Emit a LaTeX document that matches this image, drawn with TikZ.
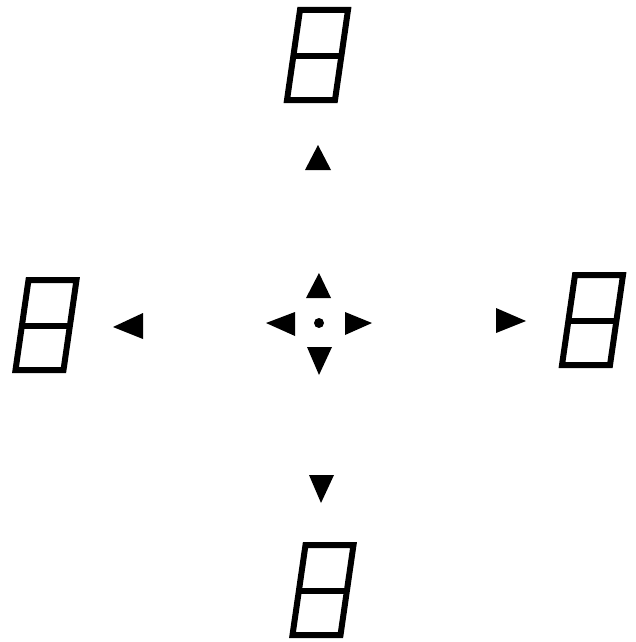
\documentclass[tikz,border=0pt]{standalone}
\begin{document}
\begin{tikzpicture}[x=1pt,y=-1pt,
  seg/.style={draw=black,line width=6pt,line join=miter},
  tri/.style={fill=black},
  digit/.pic={
    \draw[seg] (-17.5,-45) -- (30.5,-45) -- (17.5,45) -- (-30.5,45) -- cycle;
    \draw[seg] (-24.3,1) -- (23.7,1);
  }]
\useasboundingbox (0,0) rectangle (636,642);
% digits
\pic at (317.5,55) {digit};
\pic at (46,325) {digit};
\pic at (592.5,320) {digit};
\pic at (323,590) {digit};
% outer arrows
\fill[tri] (318,145) -- (331,170) -- (305,170) -- cycle;
\fill[tri] (113,327) -- (143,313) -- (143,339) -- cycle;
\fill[tri] (526,321) -- (496,308) -- (496,333) -- cycle;
\fill[tri] (321,503) -- (309,475) -- (334,475) -- cycle;
% centre cross
\fill[tri] (319,273) -- (331,298) -- (306,298) -- cycle;
\fill[tri] (266,323) -- (295,312) -- (295,336) -- cycle;
\fill[tri] (372,323) -- (345,312) -- (345,335) -- cycle;
\fill[tri] (319,375) -- (307,347) -- (332,347) -- cycle;
\fill (319,323) circle (5);
\end{tikzpicture}
\end{document}
